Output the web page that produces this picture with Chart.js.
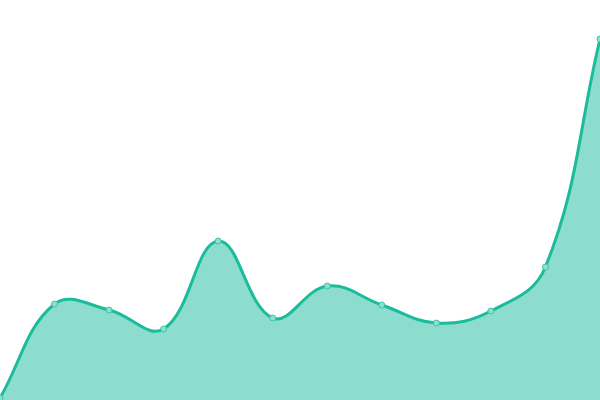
<!DOCTYPE html>
<html>
<head>
<meta charset="utf-8">
<script src="https://cdn.jsdelivr.net/npm/chart.js@4/dist/chart.umd.min.js"></script>
<style>
  html, body { margin: 0; padding: 0; background: #fff; }
  #wrap { width: 600px; height: 400px; }
</style>
</head>
<body>
<div id="wrap"><canvas id="chart"></canvas></div>
<script>
const labels = ['1', '2', '3', '4', '5', '6', '7', '8', '9', '10', '11', '12'];
const values = [2, 96, 90, 71, 159, 82, 114, 95, 77, 89, 133, 361];

const ctx = document.getElementById('chart');
new Chart(ctx, {
  type: 'line',
  data: {
    labels,
    datasets: [{
      data: values,
      borderColor: '#1abc9c',
      backgroundColor: 'rgba(26,188,156,0.5)',
      pointBackgroundColor: 'rgba(140,224,206,1)',
      pointBorderColor: '#3cc4a6',
      pointRadius: 3,
      pointBorderWidth: 1,
      borderWidth: 3,
      fill: 'origin',
      tension: 0.4
    }]
  },
  options: {
    responsive: true,
    maintainAspectRatio: false,
    animation: false,
    layout: { padding: 0, autoPadding: false },
    plugins: { legend: { display: false }, tooltip: { enabled: false } },
    scales: {
      x: { display: false, offset: false },
      y: { display: false, min: 0, max: 400 }
    }
  }
});
</script>
</body>
</html>
